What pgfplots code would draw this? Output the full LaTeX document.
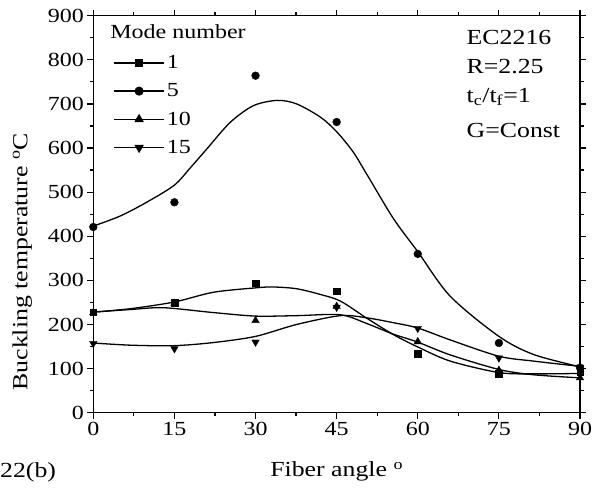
\documentclass[border=0pt]{standalone}
\usepackage{fontspec}
\setmainfont{Liberation Serif}[FakeStretch=1.2]
\usepackage{pgfplots}
\pgfplotsset{compat=1.18}
\newcommand{\lbl}{\fontsize{20}{24}\selectfont}
\newcommand{\lblbig}{\fontsize{21.5}{25}\selectfont}
\begin{document}
\begin{tikzpicture}
\begin{axis}[
  scale only axis, width=486.7pt, height=397pt,
  xmin=0, xmax=90, ymin=0, ymax=900,
  xtick={0,15,...,90}, ytick={0,100,...,900},
  minor x tick num=1, minor y tick num=1,
  tick align=outside, major tick length=6pt, minor tick length=3.5pt,
  axis line style={line width=1.2pt},
  every tick/.style={black, line width=1.2pt},
  tick label style={font=\fontsize{20}{20}\selectfont},
  /pgf/number format/assume math mode=true,
  clip=false,
  xlabel={Fiber angle \textsuperscript{o}},
  ylabel={Buckling temperature \textsuperscript{o}C},
  xlabel style={font=\lblbig, at={(rel axis cs:0.5,0)}, anchor=base, yshift=-64pt},
  ylabel style={font=\lblbig, at={(rel axis cs:0,0.38)}, anchor=base, rotate=0, yshift=66pt},
  legend style={draw=none, fill=none, at={(rel axis cs:0.041,0.905)}, anchor=north west,
    font=\lbl, row sep=9.5pt, inner sep=0pt},
  legend cell align=left,
  legend image code/.code={\draw[mark repeat=2,mark phase=2,#1] plot coordinates {(0pt,0pt)(25pt,0pt)(50pt,0pt)};},
]
% markers
\addplot[only marks, mark=square*, mark size=3.3pt, black, forget plot] coordinates {(0,228)(15,249)(30,294)(45,275)(60,134)(75,89)(90,92)};
\addplot[only marks, mark=*, mark size=3.9pt, black, forget plot] coordinates {(0,421)(15,477)(30,764)(45,659)(60,360)(75,158)(90,102)};
\addplot[only marks, mark=triangle*, mark size=4.3pt, black, forget plot] coordinates {(0,227)(15,248)(30,209)(45,241)(60,161)(75,96)(90,79)};
\addplot[only marks, mark=triangle*, mark options={rotate=180}, mark size=4.3pt, black, forget plot] coordinates {(0,157)(15,145)(30,160)(45,239)(60,191)(75,124)(90,103)};
% fitted curves
\addplot[smooth, black, line width=1.3pt, no marks, forget plot] coordinates {(0,228)(7,236)(15,251)(22.2,273)(30,283)(33.3,285)(37.6,281)(42,268)(45.7,253)(50.6,214)(55.5,177)(60,149)(66,117)(75,91)(81.4,88)(90,89)};
\addplot[smooth, black, line width=1.3pt, no marks, forget plot] coordinates {(0,423)(5,446)(10,478)(15,516)(18,556)(21,598)(25.3,658)(29.6,696)(34,708)(37.6,700)(42,670)(45,637)(48,592)(50.6,540)(55.5,440)(60,365)(66,264)(75,173)(81.4,132)(90,104)};
\addplot[smooth, black, line width=1.3pt, no marks, forget plot] coordinates {(0,228)(7,234)(13,238)(22.2,227)(30,219)(37.6,220)(45.7,222)(50.6,202)(55.5,178)(60,160)(66,131)(75,98)(81.4,86)(90,79)};
\addplot[smooth, black, line width=1.3pt, no marks, forget plot] coordinates {(0,158)(7,153)(15,152)(22.2,159)(30,173)(37.6,200)(45.7,220)(50.6,215)(55.5,204)(60,192)(66,165)(75,128)(81.4,117)(90,105)};
% legend images
\addlegendimage{black, line width=1.3pt, mark=square*, mark size=3.3pt}
\addlegendimage{black, line width=1.3pt, mark=*, mark size=3.9pt}
\addlegendimage{black, line width=1.3pt, mark=triangle*, mark size=4.3pt}
\addlegendimage{black, line width=1.3pt, mark=triangle*, mark size=4.3pt, mark options={rotate=180}}
\legend{1,5,10,15}
% annotations
\node[anchor=base west, font=\lbl] at (axis cs:2.5,849) {Mode number};
\node[anchor=base west, font=\lblbig] at (axis cs:68.4,834) {EC2216};
\node[anchor=base west, font=\lblbig] at (axis cs:68.4,770) {R=2.25};
\node[anchor=base west, font=\lblbig] at (axis cs:68.4,704) {t\textsubscript{c}/t\textsubscript{f}=1};
\node[anchor=base west, font=\lblbig] at (axis cs:68.4,625) {G=Const};
\coordinate (sw) at (rel axis cs:0,0);
\coordinate (ne) at (rel axis cs:1,1);
\end{axis}
\node[anchor=base west, font=\lblbig, inner sep=0pt] at ([shift={(-93.3pt,-65pt)}]sw) {22(b)};
\pgfresetboundingbox
\path ([shift={(-93.3pt,-80.3pt)}]sw) rectangle ([shift={(15pt,15.7pt)}]ne);
\end{tikzpicture}
\end{document}
